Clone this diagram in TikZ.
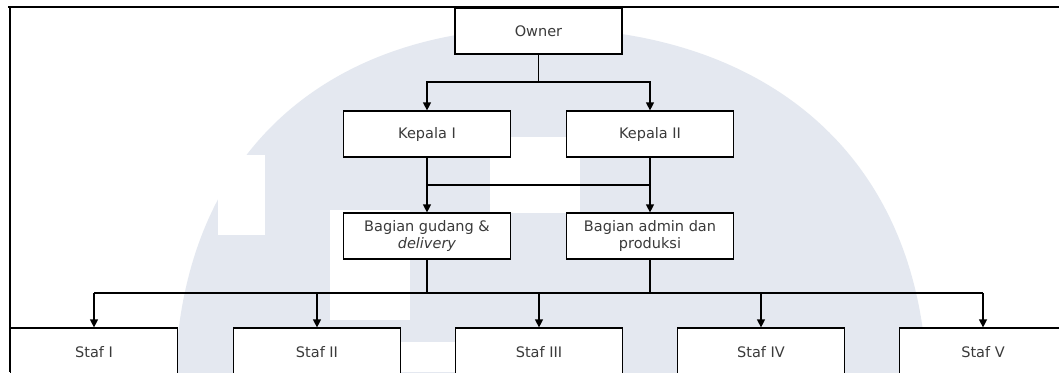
\documentclass[tikz,border=0pt]{standalone}
\usepackage{fontspec}
\setmainfont{DejaVu Sans}
\usetikzlibrary{arrows.meta,positioning,calc}
\definecolor{wm}{HTML}{E4E8F0}
\definecolor{txt}{HTML}{3A3A3A}
\tikzset{
  box/.style={draw=black,line width=1.2pt,fill=white,minimum width=167pt,minimum height=46pt,inner sep=0pt,align=center,text=txt,font=\fontsize{14.5}{17}\selectfont},
  link/.style={draw=black,line width=1.2pt},
  arr/.style={link,-{Triangle[width=8pt,length=8pt]}},
}
\begin{document}
\begin{tikzpicture}[x=1pt,y=-1pt]
\useasboundingbox (0,0) rectangle (1059,372);
\clip (0,0) rectangle (1059,372);
\fill[white] (0,0) rectangle (1059,372);
% watermark
\fill[wm] (175,380) .. controls (180,150) and (330,28) .. (540,28) .. controls (760,28) and (920,150) .. (927,380) -- cycle;
\fill[white] (218,155) rectangle (265,235);
\fill[white] (490,137) rectangle (580,213);
\fill[white] (330,210) rectangle (410,320);
\fill[white] (395,342) rectangle (483,372);
% frame
\draw[line width=2pt] (8,7) -- (1059,7);
\draw[line width=2pt] (10,7) -- (10,372);
% nodes
\node[box] (owner) at (538.5,31) {Owner};
\node[box] (k1) at (427,134) {Kepala I};
\node[box] (k2) at (650,134) {Kepala II};
\node[box] (bg) at (427,236) {Bagian gudang \&\\\textit{delivery}};
\node[box] (ba) at (650,236) {Bagian admin dan\\produksi};
\node[box,minimum height=48pt] (s1) at (94,352) {Staf I};
\node[box,minimum height=48pt] (s2) at (317,352) {Staf II};
\node[box,minimum height=48pt] (s3) at (539,352) {Staf III};
\node[box,minimum height=48pt] (s4) at (761,352) {Staf IV};
\node[box,minimum height=48pt] (s5) at (983,352) {Staf V};
% connectors
\coordinate (j1) at (538.5,82);
\draw[link] (owner) -- (j1);
\draw[arr] (j1) -| (k1);
\draw[arr] (j1) -| (k2);
\draw[arr] (k1) -- (bg);
\draw[arr] (k2) -- (ba);
\coordinate (h1) at (427,185);
\coordinate (h2) at (650,185);
\draw[link] (h1) -- (h2);
\coordinate (j2) at (427,293);
\coordinate (j3) at (650,293);
\draw[link] (bg) -- (j2);
\draw[link] (ba) -- (j3);
\coordinate (l1) at (94,293);
\coordinate (l5) at (983,293);
\draw[link] (l1) -- (l5);
\foreach \s in {s1,s2,s3,s4,s5} \draw[arr] (l1 -| \s) -- (\s);
\end{tikzpicture}
\end{document}
